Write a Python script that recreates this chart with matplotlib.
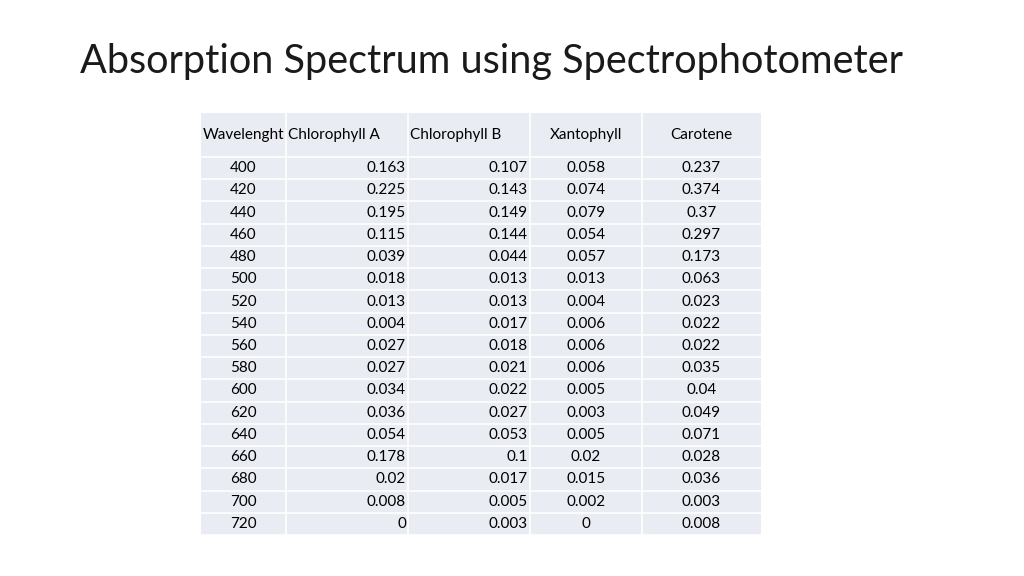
import matplotlib.pyplot as plt
from matplotlib.patches import Rectangle

headers = ['Wavelenght', 'Chlorophyll A', 'Chlorophyll B', 'Xantophyll', 'Carotene']
wavelength = ['400', '420', '440', '460', '480', '500', '520', '540', '560',
              '580', '600', '620', '640', '660', '680', '700', '720']
chl_a = ['0.163', '0.225', '0.195', '0.115', '0.039', '0.018', '0.013', '0.004', '0.027',
         '0.027', '0.034', '0.036', '0.054', '0.178', '0.02', '0.008', '0']
chl_b = ['0.107', '0.143', '0.149', '0.144', '0.044', '0.013', '0.013', '0.017', '0.018',
         '0.021', '0.022', '0.027', '0.053', '0.1', '0.017', '0.005', '0.003']
xanto = ['0.058', '0.074', '0.079', '0.054', '0.057', '0.013', '0.004', '0.006', '0.006',
         '0.006', '0.005', '0.003', '0.005', '0.02', '0.015', '0.002', '0']
carotene = ['0.237', '0.374', '0.37', '0.297', '0.173', '0.063', '0.023', '0.022', '0.022',
            '0.035', '0.04', '0.049', '0.071', '0.028', '0.036', '0.003', '0.008']

columns = [wavelength, chl_a, chl_b, xanto, carotene]

plt.rcParams['font.family'] = ['Lato', 'DejaVu Sans']

fig = plt.figure(figsize=(10.24, 5.76), dpi=100)
ax = fig.add_axes([0, 0, 1, 1])
ax.set_xlim(0, 1024)
ax.set_ylim(576, 0)
ax.axis('off')

ax.text(80, 62, 'Absorption Spectrum using Spectrophotometer', fontsize=28.5,
        fontweight='normal', color='#1a1a1a', va='center', ha='left')

col_x = [201, 286, 408, 530, 642, 761]
top, header_h = 113, 44
row_h = (535 - 157) / len(wavelength)
cell_color = '#E9ECF3'

# background cells
ax.add_patch(Rectangle((col_x[0], top), col_x[-1] - col_x[0], 535 - top,
                       facecolor=cell_color, edgecolor='none'))
for x in col_x[1:-1]:
    ax.plot([x, x], [top, 535], color='white', lw=1.2)
for i in range(len(wavelength) + 1):
    y = top + header_h + i * row_h
    ax.plot([col_x[0], col_x[-1]], [y, y], color='white', lw=1.2)

fs = 11
header_align = ['left', 'left', 'left', 'center', 'center']
hy = top + header_h / 2
for j, h in enumerate(headers):
    if header_align[j] == 'left':
        x = col_x[j] + 2
    else:
        x = (col_x[j] + col_x[j + 1]) / 2
    ax.text(x, hy, h, fontsize=fs, ha=header_align[j], va='center', color='#000000')

body_align = ['center', 'right', 'right', 'center', 'center']
for j, col in enumerate(columns):
    for i, v in enumerate(col):
        y = top + header_h + (i + 0.5) * row_h
        if body_align[j] == 'right':
            x = col_x[j + 1] - 2
        else:
            x = (col_x[j] + col_x[j + 1]) / 2
        ax.text(x, y, v, fontsize=fs, ha=body_align[j], va='center', color='#000000')

fig.savefig('out.png', dpi=100)
